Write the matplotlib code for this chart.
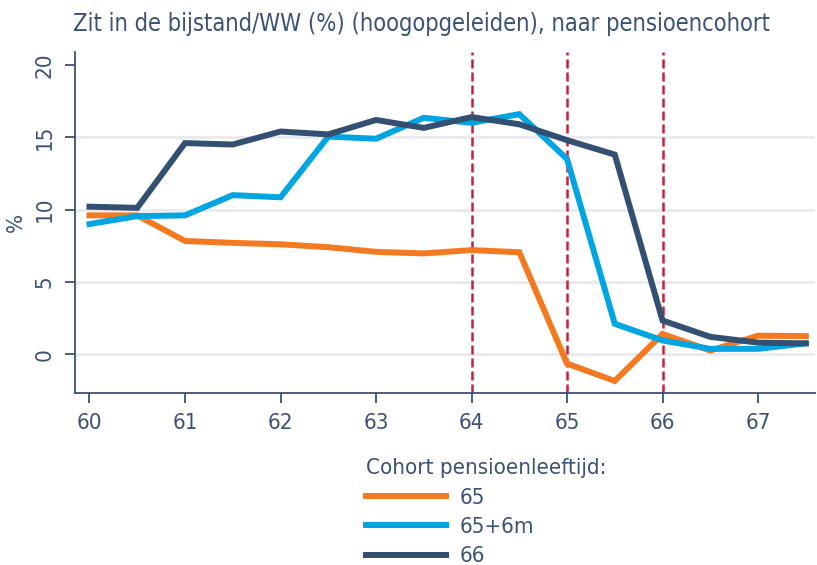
import numpy as np
import matplotlib.pyplot as plt

leeftijd = np.arange(60, 68, 0.5)

bijstand_65 = [9.6, 9.6, 7.83, 7.7, 7.6, 7.4, 7.08, 6.97,
               7.2, 7.05, -0.65, -1.85, 1.4, 0.25, 1.28, 1.25]
bijstand_65_6m = [9.0, 9.55, 9.6, 11.0, 10.85, 15.05, 14.9, 16.35,
                  16.0, 16.6, 13.5, 2.1, 0.95, 0.37, 0.37, 0.75]
bijstand_66 = [10.2, 10.12, 14.6, 14.5, 15.4, 15.2, 16.2, 15.65,
               16.4, 15.9, 14.8, 13.8, 2.33, 1.2, 0.8, 0.75]

cohorten = ["65", "65+6m", "66"]
pensioenleeftijden = [64, 65, 66]

plt.rcParams['font.family'] = ["DejaVu Sans"]
plt.rcParams['font.stretch'] = "condensed"

tekst = "#3b5275"
kleuren = ["#f47a20", "#00a5e1", "#334f72"]

fig = plt.figure(figsize=(8.17, 5.65), dpi=100)
ax = fig.add_axes([0.092, 0.304, 0.906, 0.604])

for y in [0, 5, 10, 15]:
    ax.axhline(y, color="#e9e9ef", lw=2, zorder=0)

# verticale lijnen op de pensioenleeftijden
for x in pensioenleeftijden:
    ax.axvline(x, color="#c8203a", lw=1.8, ls=(0, (3.6, 1.6)), zorder=1)

for reeks, naam, kleur in zip([bijstand_65, bijstand_65_6m, bijstand_66], cohorten, kleuren):
    ax.plot(leeftijd, reeks, color=kleur, lw=4.3, label=naam,
            solid_joinstyle="miter", zorder=3)

ax.set_xlim(59.85, 67.6)
ax.set_ylim(-2.7, 20.9)
ax.set_xticks(range(60, 68))
ax.set_yticks([0, 5, 10, 15, 20])
ax.tick_params(colors=tekst, labelsize=16, length=7, width=1.3)
ax.tick_params(axis="x", pad=7)
ax.tick_params(axis="y", pad=8)
for lbl in ax.get_yticklabels():
    lbl.set_rotation(90)
    lbl.set_va("center")

for kant in ["top", "right"]:
    ax.spines[kant].set_visible(False)
for kant in ["left", "bottom"]:
    ax.spines[kant].set_color(tekst)
    ax.spines[kant].set_linewidth(1.3)

ax.set_ylabel("%", color=tekst, fontsize=16, labelpad=6)
fig.text(0.089, 0.958, "Zit in de bijstand/WW (%) (hoogopgeleiden), naar pensioencohort",
         color=tekst, fontsize=17, va="center", ha="left")

leg = ax.legend(loc="upper left", bbox_to_anchor=(0.4235, 0.224),
                bbox_transform=fig.transFigure, frameon=False,
                title="Cohort pensioenleeftijd:", fontsize=16, title_fontsize=16,
                handlelength=3.6, handletextpad=0.6, labelspacing=0.42,
                alignment="left")
for t in leg.get_texts():
    t.set_color(tekst)
leg.get_title().set_color(tekst)

fig.savefig("out.png", dpi=100)
